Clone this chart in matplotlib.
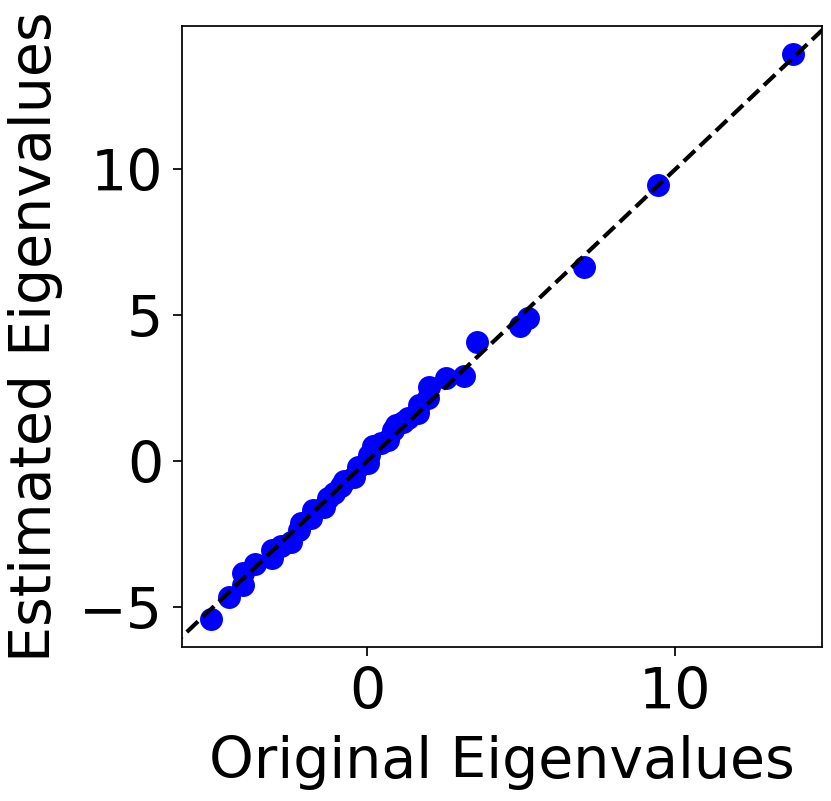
import matplotlib
matplotlib.use("Agg")
import matplotlib.pyplot as plt
import numpy as np

# eigenvalues
original = [-5.06, -4.47, -4.04, -4.04, -3.64, -3.08, -3.08, -2.79, -2.47, -2.20,
            -2.14, -1.82, -1.76, -1.39, -1.28, -1.06, -0.84, -0.74, -0.41, -0.30,
            0.02, 0.08, 0.19, 0.45, 0.67, 0.83, 0.94, 1.16, 1.32, 1.65,
            1.70, 1.97, 2.02, 2.56, 3.16, 3.56, 4.97, 5.24, 7.03, 9.44,
            13.82]
estimated = [-5.40, -4.66, -4.23, -3.83, -3.52, -3.32, -3.03, -2.89, -2.75, -2.35,
             -2.12, -1.95, -1.66, -1.55, -1.26, -1.09, -0.86, -0.69, -0.52, -0.18,
             -0.06, 0.22, 0.51, 0.62, 0.74, 1.08, 1.25, 1.36, 1.48, 1.65,
             1.93, 2.16, 2.56, 2.85, 2.93, 4.08, 4.62, 4.92, 6.67, 9.47,
             13.96]
xticks = [0, 10]
yticks = [-5, 0, 5, 10]

fig = plt.figure(figsize=(8.31, 8.01), dpi=100)
ax = fig.add_axes([0.219, 0.192, 0.770, 0.776])

ax.scatter(original, estimated, s=240, color="blue", zorder=2)
xlims = ax.get_xlim()
ylims = ax.get_ylim()
lims = [min(xlims[0], ylims[0]), max(xlims[1], ylims[1])]
ax.plot(lims, lims, "k--", lw=3, zorder=3)
ax.set_xlim(xlims)
ax.set_ylim(ylims)

ax.set_xticks(xticks)
ax.set_yticks(yticks)
ax.set_xlabel("Original Eigenvalues", fontsize=41, labelpad=10)
ax.set_ylabel("Estimated Eigenvalues", fontsize=41, labelpad=12)
ax.tick_params(labelsize=41, width=1.25, length=6.5, pad=7)
for sp in ax.spines.values():
    sp.set_linewidth(1.25)

fig.savefig("out.png", dpi=100)
